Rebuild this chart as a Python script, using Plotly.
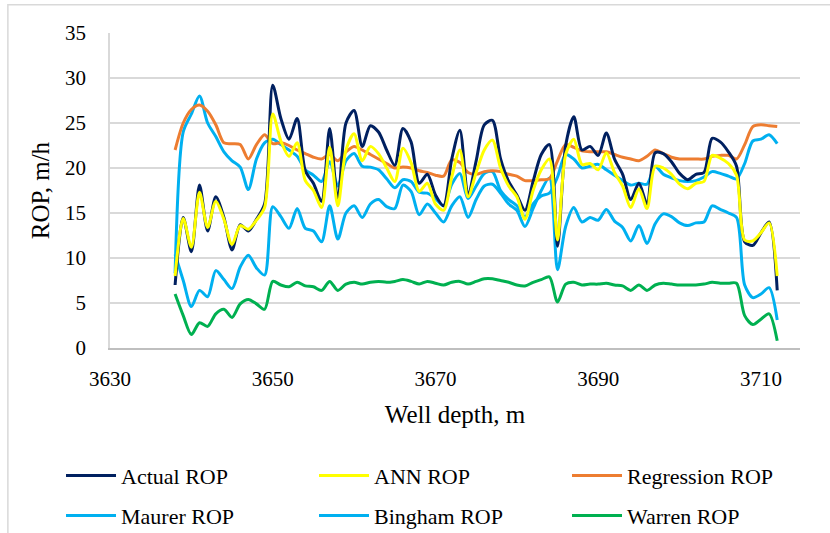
import plotly.graph_objects as go

# Well depth, m (1 m sampling)
depth = list(range(3638, 3713))

actual_rop = [
    7.0, 14.5, 10.7, 18.1, 13.0, 16.8, 14.5, 10.9, 13.7, 13.0,
    14.3, 16.0, 29.2, 25.5, 23.2, 25.5, 19.7, 18.3, 16.3, 24.4,
    16.3, 25.0, 26.4, 22.4, 24.7, 24.0, 22.0, 20.3, 24.4, 22.9,
    18.3, 19.3, 17.0, 15.8, 21.0, 24.2, 17.0, 20.8, 24.8, 25.3,
    21.0, 18.5, 17.0, 15.3, 18.5, 21.5, 22.6, 11.3, 22.5, 25.7,
    22.0, 22.4, 21.4, 23.9, 21.0, 19.3, 16.5, 18.3, 16.0, 21.7,
    21.6, 20.7, 19.4, 18.7, 19.3, 19.5, 23.3, 22.9, 21.8, 20.2,
    11.8, 11.4, 12.8, 14.0, 6.4,
]

ann_rop = [
    8.0, 14.4, 11.2, 17.3, 13.4, 16.3, 14.3, 11.5, 13.6, 13.2,
    14.2, 15.6, 26.0, 23.0, 21.3, 22.8, 18.6, 17.5, 15.6, 22.3,
    15.8, 22.0, 23.8, 20.8, 22.4, 21.6, 20.0, 18.5, 22.2, 20.6,
    17.4, 18.3, 16.0, 15.3, 19.0, 22.0, 16.8, 19.5, 22.0, 23.1,
    20.0, 18.0, 16.8, 14.3, 17.5, 19.8, 21.0, 12.0, 21.5, 23.2,
    20.4, 20.5, 19.8, 21.7, 19.5, 18.0, 15.6, 17.7, 15.5, 20.2,
    20.0, 19.3, 18.2, 17.7, 18.3, 18.5, 21.4, 21.1, 20.5, 19.2,
    12.0, 11.9, 12.8, 13.9, 8.0,
]

regression_rop = [
    22.0, 25.0, 26.5, 27.0, 26.3, 24.8, 22.8, 22.7, 22.6, 21.0,
    22.6, 23.7, 22.7, 22.8, 22.5, 22.0, 21.6, 21.2, 21.0, 21.5,
    20.8, 21.8, 22.4, 22.0, 21.5, 21.0, 20.5, 20.0, 20.1, 20.0,
    19.7, 19.5, 19.2, 19.1, 20.9, 20.6, 19.5, 19.3, 19.6, 19.7,
    19.6, 19.3, 19.1, 18.6, 18.6, 18.7, 18.8, 20.8, 22.6, 22.3,
    21.9, 21.8, 21.8, 21.8, 21.5, 21.2, 21.0, 20.8, 21.3, 22.0,
    21.6, 21.2, 21.0, 21.0, 21.0, 21.0, 21.3, 21.4, 21.4, 21.0,
    22.6, 24.6, 24.8, 24.7, 24.6,
]

maurer_rop = [
    8.3, 24.0, 26.0, 28.0, 25.0, 23.5, 21.8, 20.8, 20.1, 17.6,
    21.0, 22.8, 23.2, 22.6, 22.0, 21.3, 19.8, 19.2, 18.5, 20.7,
    18.0, 20.8, 21.6, 20.2, 20.1, 19.8, 18.8, 17.8, 18.7, 18.5,
    17.3, 17.2, 16.6, 15.8, 18.2, 19.4, 16.6, 18.0, 19.4, 19.6,
    17.5, 16.5, 15.8, 14.6, 16.0, 16.9, 17.2, 19.0, 21.5, 21.0,
    20.0, 20.2, 20.4, 19.8, 19.2, 18.6, 18.1, 18.3, 18.2, 20.2,
    19.3, 18.9, 18.6, 18.5, 18.6, 19.0, 19.6, 19.4, 19.1, 18.8,
    20.5, 23.0, 23.2, 23.7, 22.7,
]

bingham_rop = [
    10.4, 7.5, 4.6, 6.4, 5.7, 8.6, 7.6, 6.6, 9.0, 10.3,
    8.9, 8.1, 15.7, 14.6, 13.3, 15.5, 13.3, 13.0, 11.8, 15.8,
    12.1, 15.0, 15.8, 14.5, 16.0, 16.5, 15.7, 15.5, 18.1, 17.4,
    14.8, 16.0, 15.0, 14.0, 15.8, 16.8, 14.5, 16.5, 18.0, 18.2,
    17.2, 16.0, 15.3, 13.5, 15.5, 17.5, 18.9, 8.7, 13.5, 15.6,
    14.0, 14.5, 14.2, 15.4, 14.1, 13.4, 11.9, 13.6, 11.6, 13.8,
    14.9, 14.6, 13.9, 13.6, 13.9, 14.0, 15.8, 15.4, 15.0, 14.5,
    7.0, 5.6, 6.0, 6.7, 3.1,
]

warren_rop = [
    6.0, 3.6, 1.5, 2.8, 2.4, 3.8, 4.3, 3.4, 4.9, 5.4,
    4.9, 4.3, 7.4, 7.0, 6.8, 7.3, 6.9, 6.8, 6.4, 7.4,
    6.4, 7.1, 7.3, 7.1, 7.3, 7.4, 7.3, 7.4, 7.6, 7.4,
    7.1, 7.4, 7.2, 7.0, 7.3, 7.4, 7.1, 7.4, 7.7, 7.7,
    7.5, 7.3, 7.0, 6.9, 7.3, 7.6, 7.9, 5.1, 7.1, 7.3,
    7.0, 7.1, 7.1, 7.2, 7.0, 6.9, 6.4, 7.0, 6.4, 7.0,
    7.2, 7.1, 7.0, 7.0, 7.0, 7.1, 7.3, 7.2, 7.2, 7.2,
    3.6, 2.6, 3.2, 3.8, 0.8,
]

x_ticks = [3630, 3650, 3670, 3690, 3710]
y_ticks = [0, 5, 10, 15, 20, 25, 30, 35]

# (name, values, colour, legend row)
series = [
    ("Actual ROP", actual_rop, "#002060", "legend"),
    ("ANN ROP", ann_rop, "#FFFF00", "legend"),
    ("Regression ROP", regression_rop, "#ED7D31", "legend"),
    ("Maurer ROP", maurer_rop, "#00B0F0", "legend2"),
    ("Bingham ROP", bingham_rop, "#00B0F0", "legend2"),
    ("Warren ROP", warren_rop, "#00B050", "legend2"),
]

FONT = "Times New Roman, Liberation Serif, Tinos, DejaVu Serif, Noto Serif, serif"

fig = go.Figure()
# lower series drawn first so Actual/ANN sit on top
draw_order = [5, 4, 3, 2, 0, 1]
for i in draw_order:
    name, vals, color, leg = series[i]
    fig.add_trace(go.Scatter(
        x=depth, y=vals, name=name, mode="lines",
        line=dict(color=color, width=3, shape="spline", smoothing=0.8),
        legend=leg, legendrank=i + 1,
    ))

legend_common = dict(
    orientation="h", xref="paper", yref="paper",
    x=-0.071, xanchor="left", yanchor="middle",
    entrywidth=188, entrywidthmode="pixels", itemwidth=50,
    font=dict(family=FONT, size=22, color="black"),
    traceorder="normal", bgcolor="rgba(0,0,0,0)",
)

fig.update_layout(
    width=830, height=533,
    margin=dict(l=110, r=30, t=33, b=185, autoexpand=False),
    paper_bgcolor="white", plot_bgcolor="white",
    font=dict(family=FONT, color="black", size=21),
    showlegend=True,
    legend=dict(legend_common, y=-0.405),
    legend2=dict(legend_common, y=-0.532),
    shapes=[dict(
        type="rect", xref="paper", yref="paper",
        x0=-0.148, x1=1.3, y0=-0.8, y1=1.09,
        line=dict(color="#d9d9d9", width=1.5), fillcolor="rgba(0,0,0,0)",
        layer="below",
    )],
)

fig.update_xaxes(
    range=[3630, 3714.8], tickvals=x_ticks, ticktext=[str(v) for v in x_ticks],
    showgrid=False, zeroline=False,
    showline=True, linecolor="#bfbfbf", linewidth=1.5,
    ticks="", tickfont=dict(family=FONT, size=21), ticklabelstandoff=11,
    title=dict(text="Well depth, m", font=dict(family=FONT, size=25), standoff=16),
)
fig.update_yaxes(
    range=[0, 35], tickvals=y_ticks, ticktext=[str(v) for v in y_ticks],
    showgrid=True, gridcolor="#d9d9d9", gridwidth=1.5, zeroline=False,
    showline=True, linecolor="#d9d9d9", linewidth=1.5,
    ticks="", tickfont=dict(family=FONT, size=21), ticklabelstandoff=18,
    title=dict(text="ROP, m/h", font=dict(family=FONT, size=25), standoff=8),
)

fig.write_html("out.html")
